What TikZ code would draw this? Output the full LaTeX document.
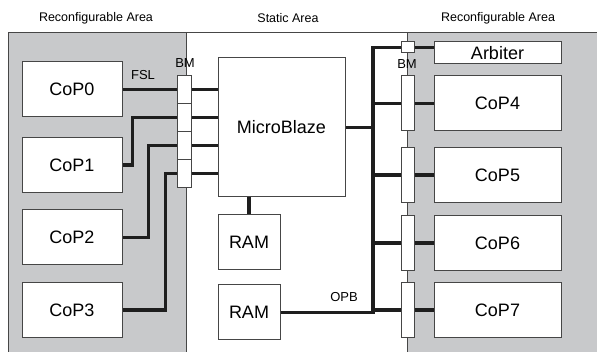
\documentclass[tikz,border=0pt]{standalone}
\usepackage{fontspec}
\setmainfont{Liberation Sans}
\usepackage{tikz}
\usetikzlibrary{positioning,calc}
\definecolor{AreaGray}{RGB}{200,201,203}
\definecolor{EdgeGray}{RGB}{70,70,70}
\definecolor{BusBlack}{RGB}{30,30,30}

\begin{document}
\begin{tikzpicture}[x=1pt,y=-1pt,
  unit/.style={draw=EdgeGray,fill=white,line width=1pt,inner sep=0pt,
               minimum width=100pt,minimum height=55pt,font=\fontsize{18}{18}\selectfont},
  wide/.style={unit,minimum width=127pt},
  bmbox/.style={draw=EdgeGray,fill=white,line width=1pt,inner sep=0pt,minimum width=13pt},
  bus/.style={draw=BusBlack,line width=3.5pt},
  tag/.style={font=\fontsize{13}{13}\selectfont,inner sep=0pt},
  arealabel/.style={font=\fontsize{12.5}{12.5}\selectfont,inner sep=0pt},
]
\useasboundingbox (0,0) rectangle (597,352);
\fill[AreaGray] (8,33) rectangle (186,360);
\fill[AreaGray] (407,33) rectangle (610,360);
\draw[EdgeGray,line width=1pt] (8,360) -- (8,33) -- (610,33);
\draw[EdgeGray,line width=1pt] (186,360) -- (186,33);
\draw[EdgeGray,line width=1pt] (407,360) -- (407,33);

\node[arealabel] (lbl-left) at (96,18) {Reconfigurable Area};
\node[arealabel] (lbl-static) at (288,18) {Static Area};
\node[arealabel] (lbl-right) at (498,18) {Reconfigurable Area};

\node[unit] (cop0) at (72,89.5) {CoP0};
\node[unit] (cop1) at (72,165) {CoP1};
\node[unit] (cop2) at (72,237.5) {CoP2};
\node[unit] (cop3) at (72,310) {CoP3};

\node[bmbox,minimum width=14pt,minimum height=28pt] (bml0) at (184,89.5) {};
\node[bmbox,minimum width=14pt,minimum height=28pt] (bml1) at (184,117.5) {};
\node[bmbox,minimum width=14pt,minimum height=28pt] (bml2) at (184,145.5) {};
\node[bmbox,minimum width=14pt,minimum height=28pt] (bml3) at (184,173.5) {};

\node[wide,minimum height=139pt] (mb) at (281.5,127.5) {MicroBlaze};
\node[unit,minimum width=62pt] (ram1) at (249,242.5) {RAM};
\node[unit,minimum width=62pt] (ram2) at (249,312.5) {RAM};

\node[wide,minimum height=22pt] (arb) at (497.5,53) {Arbiter};
\node[wide] (cop4) at (497.5,103.5) {CoP4};
\node[wide] (cop5) at (497.5,175) {CoP5};
\node[wide] (cop6) at (497.5,243) {CoP6};
\node[wide] (cop7) at (497.5,310) {CoP7};

\node[bmbox,minimum height=11pt] (bmarb) at (407.5,47.5) {};
\node[bmbox,minimum height=55pt] (bmr4) at (407.5,103.5) {};
\node[bmbox,minimum height=55pt] (bmr5) at (407.5,175) {};
\node[bmbox,minimum height=55pt] (bmr6) at (407.5,243) {};
\node[bmbox,minimum height=55pt] (bmr7) at (407.5,310) {};

\coordinate (bustop) at (373,47.5);

\draw[bus] (cop0.east) -- (bml0.west);
\draw[bus] (cop1.east) -- ++(10,0) |- (bml1.west);
\draw[bus] (cop2.east) -- ++(26,0) |- (bml2.west);
\draw[bus] (cop3.east) -- ++(43,0) |- (bml3.west);
\draw[bus] (bml0.east) -- (bml0.east -| mb.west);
\draw[bus] (bml1.east) -- (bml1.east -| mb.west);
\draw[bus] (bml2.east) -- (bml2.east -| mb.west);
\draw[bus] (bml3.east) -- (bml3.east -| mb.west);

\draw[bus] (ram1.north) -- (ram1.north |- mb.south);
\draw[bus] (ram2.east) -| (bustop) -- (bmarb.west);
\draw[bus] (mb.east) -- (mb.east -| bustop);
\draw[bus] (bmarb.east) -- (bmarb.east -| arb.west);
\foreach \k in {4,5,6,7}{
  \draw[bus] (bmr\k.west -| bustop) -- (bmr\k.west);
  \draw[bus] (bmr\k.east) -- (cop\k.west);
}

\node[tag] (fsl) at (143,75) {FSL};
\node[tag] (bm-left) at (185,63) {BM};
\node[tag] (bm-right) at (407,64) {BM};
\node[tag] (opb) at (344,297) {OPB};
\end{tikzpicture}
\end{document}
